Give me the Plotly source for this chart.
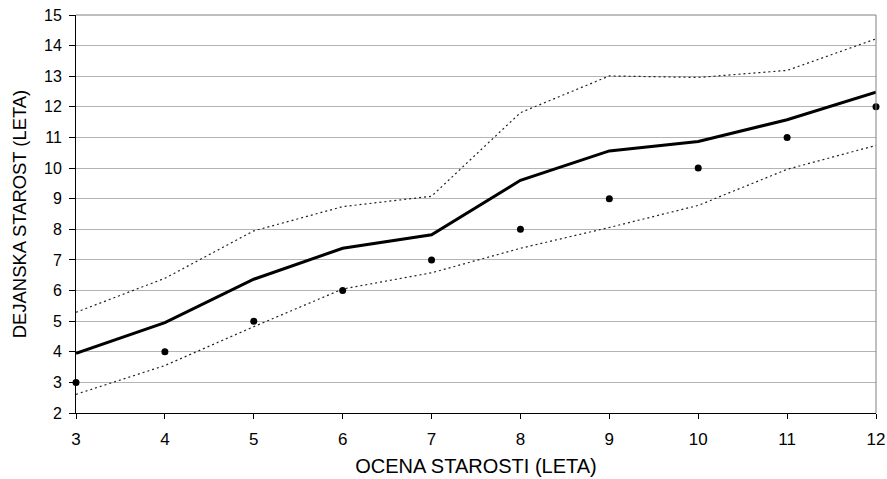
import plotly.graph_objects as go

ocena = [3, 4, 5, 6, 7, 8, 9, 10, 11, 12]
povprecje = [3.95, 4.95, 6.37, 7.38, 7.82, 9.6, 10.56, 10.87, 11.58, 12.48]
zgornja = [5.29, 6.4, 7.95, 8.74, 9.08, 11.81, 13.01, 12.96, 13.19, 14.22]
spodnja = [2.61, 3.55, 4.82, 6.05, 6.58, 7.38, 8.06, 8.78, 9.96, 10.74]
dejanska = [3, 4, 5, 6, 7, 8, 9, 10, 11, 12]

y_ticks = list(range(2, 16))
x_ticks = list(range(3, 13))

fig = go.Figure()
fig.add_trace(go.Scatter(x=ocena, y=zgornja, mode="lines",
                         line=dict(color="#222222", width=1.2, dash="2px,3px"),
                         showlegend=False, cliponaxis=False))
fig.add_trace(go.Scatter(x=ocena, y=spodnja, mode="lines",
                         line=dict(color="#222222", width=1.2, dash="2px,3px"),
                         showlegend=False, cliponaxis=False))
fig.add_trace(go.Scatter(x=ocena, y=povprecje, mode="lines",
                         line=dict(color="black", width=3),
                         showlegend=False, cliponaxis=False))
fig.add_trace(go.Scatter(x=ocena, y=dejanska, mode="markers",
                         marker=dict(color="black", size=7),
                         showlegend=False, cliponaxis=False))

fam = "Liberation Sans, Arial, sans-serif"
tick_font_x = dict(family=fam, size=17, color="black")
tick_font_y = dict(family=fam, size=16, color="black")

fig.update_layout(
    width=887, height=479,
    margin=dict(l=76, r=11, t=15, b=66),
    paper_bgcolor="white", plot_bgcolor="white",
    font=dict(family=fam, color="black"),
    xaxis=dict(range=[3, 12], tickvals=x_ticks, ticks="outside", ticklen=5,
               tickcolor="black", showline=True, linecolor="black", linewidth=1,
               showgrid=False, zeroline=False, ticklabelstandoff=6, automargin=False,
               title=dict(text="OCENA STAROSTI (LETA)", standoff=10,
                          font=dict(family=fam, size=20, color="black")),
               tickfont=tick_font_x),
    yaxis=dict(range=[2, 15], tickvals=y_ticks, ticks="outside", ticklen=6,
               tickcolor="black", showline=True, linecolor="black", linewidth=1,
               showgrid=True, gridcolor="#b4b4b4", gridwidth=1, zeroline=False,
               automargin=False, ticklabelstandoff=4,
               title=dict(text="DEJANSKA STAROST (LETA)", standoff=12,
                          font=dict(family=fam, size=18.4, color="black")),
               tickfont=tick_font_y),
    shapes=[
        dict(type="line", xref="paper", yref="paper", x0=0, x1=1, y0=1, y1=1,
             line=dict(color="#808080", width=1)),
        dict(type="line", xref="paper", yref="paper", x0=1, x1=1, y0=0, y1=1,
             line=dict(color="#808080", width=1)),
    ],
)

fig.write_html("out.html")
